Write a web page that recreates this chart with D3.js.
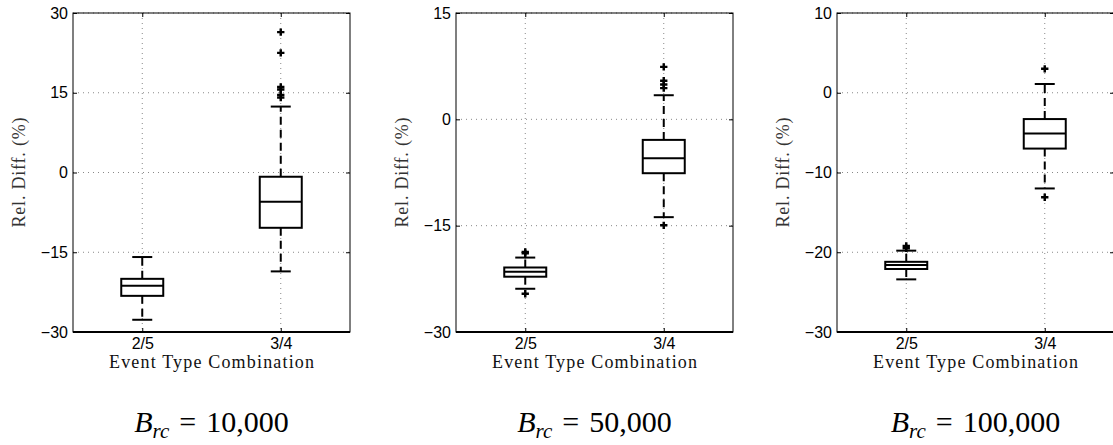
<!DOCTYPE html>
<meta charset="utf-8">
<script src="https://d3js.org/d3.v7.min.js"></script>
<style>
  body { margin: 0; background: #fff; }
  .tick text { font-family: "Liberation Sans", Arial, sans-serif; font-size: 16px; fill: #000; }
</style>
<div id="my_dataviz"></div>
<script>
// categories + titles
var categories = ["2/5", "3/4"];
var titles = ["10,000", "50,000", "100,000"];

// y domains and ticks for each panel
var yDomains = [[-30, 30], [-30, 15], [-30, 10]];
var yTicks = [[-30, -15, 0, 15, 30], [-30, -15, 0, 15], [-30, -20, -10, 0, 10]];

// box stats: [lower whisker, q1, median, q3, upper whisker]
var stats10k = [[-27.7, -23.2, -21.3, -20.0, -15.9], [-18.6, -10.4, -5.5, -0.8, 12.4]];
var stats50k = [[-23.9, -22.2, -21.5, -20.9, -19.5], [-13.8, -7.6, -5.5, -2.9, 3.4]];
var stats100k = [[-23.4, -22.1, -21.6, -21.2, -19.8], [-12.0, -7.0, -5.1, -3.3, 1.1]];

// outliers per category
var outliers10k = [[], [14.1, 14.6, 15.6, 16.1, 22.5, 26.4]];
var outliers50k = [[-18.7, -18.9, -24.6], [4.4, 4.9, 5.45, 7.4, -14.95]];
var outliers100k = [[-19.2, -19.5], [3.0, -13.1]];

var allStats = [stats10k, stats50k, stats100k];
var allOutliers = [outliers10k, outliers50k, outliers100k];

var W = 1113, H = 445;
var lefts = [73, 456, 837];
var top0 = 13, width = 277, height = 319;

var svg = d3.select("#my_dataviz")
  .append("svg")
    .attr("width", W)
    .attr("height", H);

for (var p = 0; p < 3; p++) {
  var g = svg.append("g")
    .attr("transform", "translate(" + lefts[p] + "," + top0 + ")");

  var x = d3.scaleLinear().domain([0.5, 2.5]).range([0, width]);
  var y = d3.scaleLinear().domain(yDomains[p]).range([height, 0]);

  // grid (dotted)
  g.append("g").selectAll("line.gy")
    .data(yTicks[p])
    .enter().append("line")
      .attr("x1", 0).attr("x2", width)
      .attr("y1", function (d) { return y(d); })
      .attr("y2", function (d) { return y(d); })
      .attr("stroke", "#888")
      .attr("stroke-width", 1)
      .attr("stroke-dasharray", "1,4");
  g.append("g").selectAll("line.gx")
    .data(categories)
    .enter().append("line")
      .attr("x1", function (d, i) { return x(i + 1); })
      .attr("x2", function (d, i) { return x(i + 1); })
      .attr("y1", 0).attr("y2", height)
      .attr("stroke", "#888")
      .attr("stroke-width", 1)
      .attr("stroke-dasharray", "1,4");

  // axes, ticks pointing inward like matlab
  g.append("g")
    .call(d3.axisLeft(y).tickValues(yTicks[p]).tickSize(-4).tickPadding(5));
  g.append("g")
    .attr("transform", "translate(" + width + ",0)")
    .call(d3.axisRight(y).tickValues(yTicks[p]).tickSize(-4).tickFormat(""));
  g.append("g")
    .attr("transform", "translate(0," + height + ")")
    .call(d3.axisBottom(x).tickValues([1, 2]).tickSize(-4).tickPadding(6)
      .tickFormat(function (d) { return categories[d - 1]; }));
  g.append("g")
    .call(d3.axisTop(x).tickValues([1, 2]).tickSize(-4).tickFormat(""));
  g.selectAll(".domain").remove();
  g.selectAll(".tick line").attr("stroke", "#000");

  // frame
  g.append("rect")
    .attr("width", width).attr("height", height)
    .attr("fill", "none").attr("stroke", "#000").attr("stroke-width", 1);
  g.append("line")
    .attr("x1", 0).attr("x2", width).attr("y1", height).attr("y2", height)
    .attr("stroke", "#000").attr("stroke-width", 2);

  var stats = allStats[p];
  var boxW = 42, capW = 20;

  // whiskers
  var wg = g.append("g");
  stats.forEach(function (s, i) {
    var cx = x(i + 1);
    wg.append("line")
      .attr("x1", cx).attr("x2", cx)
      .attr("y1", y(s[3])).attr("y2", y(s[4]))
      .attr("stroke", "#000").attr("stroke-width", 2).attr("stroke-dasharray", "8,5");
    wg.append("line")
      .attr("x1", cx).attr("x2", cx)
      .attr("y1", y(s[1])).attr("y2", y(s[0]))
      .attr("stroke", "#000").attr("stroke-width", 2).attr("stroke-dasharray", "8,5");
    [s[0], s[4]].forEach(function (v) {
      wg.append("line")
        .attr("x1", cx - capW / 2).attr("x2", cx + capW / 2)
        .attr("y1", y(v)).attr("y2", y(v))
        .attr("stroke", "#000").attr("stroke-width", 2);
    });
  });

  // boxes
  g.append("g").selectAll("rect")
    .data(stats)
    .enter().append("rect")
      .attr("x", function (d, i) { return x(i + 1) - boxW / 2; })
      .attr("y", function (d) { return y(d[3]); })
      .attr("width", boxW)
      .attr("height", function (d) { return y(d[1]) - y(d[3]); })
      .attr("fill", "#fff")
      .attr("stroke", "#000")
      .attr("stroke-width", 2);
  g.append("g").selectAll("line")
    .data(stats)
    .enter().append("line")
      .attr("x1", function (d, i) { return x(i + 1) - boxW / 2; })
      .attr("x2", function (d, i) { return x(i + 1) + boxW / 2; })
      .attr("y1", function (d) { return y(d[2]); })
      .attr("y2", function (d) { return y(d[2]); })
      .attr("stroke", "#000")
      .attr("stroke-width", 2);

  // outliers
  var pts = [];
  allOutliers[p].forEach(function (arr, i) {
    arr.forEach(function (v) { pts.push({ c: i + 1, v: v }); });
  });
  g.append("g").selectAll("path")
    .data(pts)
    .enter().append("path")
      .attr("transform", function (d) { return "translate(" + x(d.c) + "," + y(d.v) + ")"; })
      .attr("d", d3.symbol(d3.symbolCross, 30))
      .attr("fill", "#000");

  // axis labels
  g.append("text")
    .attr("transform", "translate(-54," + height / 2 + ") rotate(-90)")
    .attr("text-anchor", "middle")
    .attr("dy", "0.35em")
    .attr("font-family", "'Liberation Serif', serif")
    .attr("font-size", "18px")
    .attr("textLength", 110)
    .attr("lengthAdjust", "spacing")
    .attr("fill", "#333")
    .text("Rel. Diff. (%)");

  g.append("text")
    .attr("x", width / 2)
    .attr("y", 355)
    .attr("text-anchor", "middle")
    .attr("font-family", "'Liberation Serif', serif")
    .attr("font-size", "18px")
    .attr("textLength", 205)
    .attr("lengthAdjust", "spacing")
    .attr("fill", "#111")
    .text("Event Type Combination");

  // title under panel
  var t = g.append("text")
    .attr("x", width / 2)
    .attr("y", 419)
    .attr("text-anchor", "middle")
    .attr("font-family", "'Liberation Serif', serif")
    .attr("font-size", "30px")
    .attr("fill", "#000");
  t.append("tspan").attr("font-style", "italic").text("B");
  t.append("tspan").attr("font-style", "italic").attr("font-size", "21px").attr("dy", 6).text("rc");
  t.append("tspan").attr("dy", -6).text("\u2004=\u2004" + titles[p]);
}
</script>
